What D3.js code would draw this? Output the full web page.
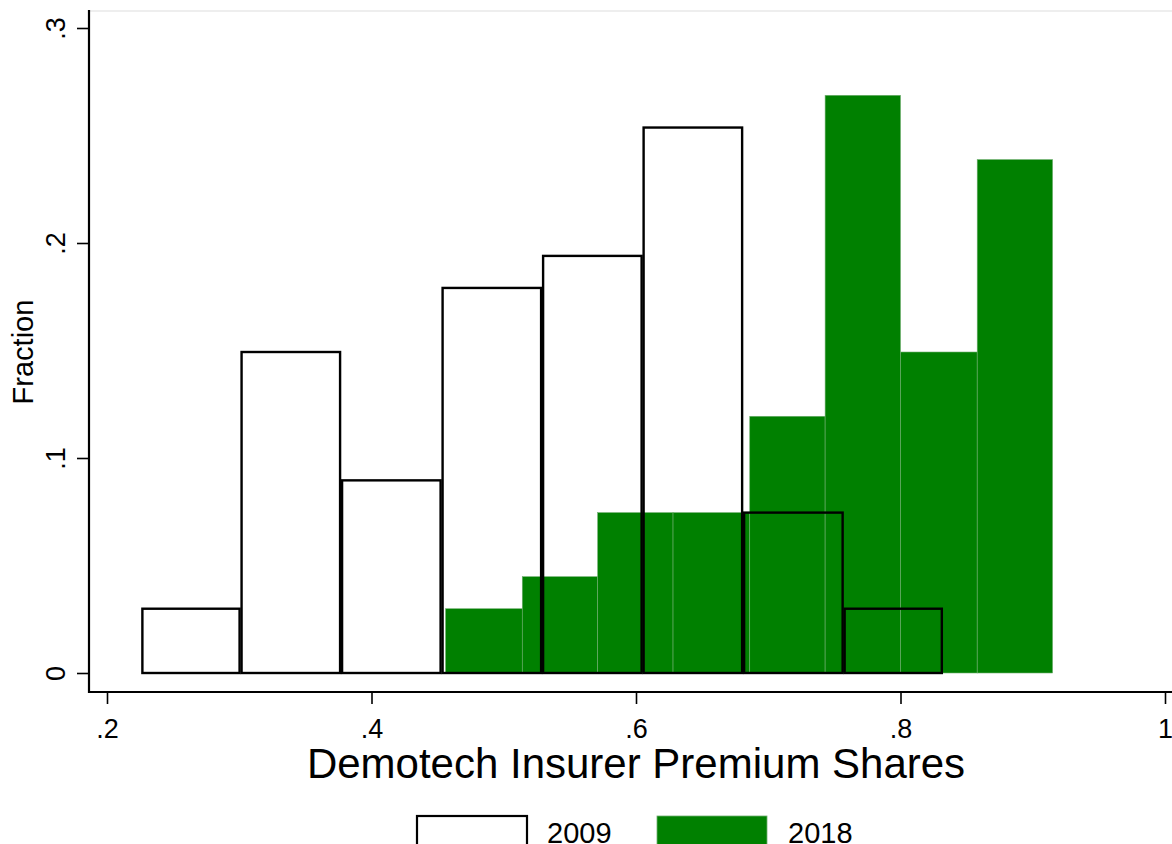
<!DOCTYPE html>
<html>
<head>
<meta charset="utf-8">
<script src="https://cdn.jsdelivr.net/npm/d3@7"></script>
<style>
    body { margin: 0; background: #fff; }
    svg { display: block; font-family: "Liberation Sans", Arial, sans-serif; }
</style>
</head>
<body>
<svg></svg>
<script>
// bin edges and fractions
const edges2009 = [0.226, 0.301, 0.377, 0.453, 0.529, 0.605, 0.681, 0.757, 0.832];
const frac2009 = [0.0299, 0.1493, 0.0896, 0.1791, 0.1940, 0.2537, 0.0746, 0.0299];
const edges2018 = [0.456, 0.514, 0.571, 0.628, 0.686, 0.743, 0.800, 0.858, 0.915];
const frac2018 = [0.0299, 0.0448, 0.0746, 0.0746, 0.1194, 0.2687, 0.1493, 0.2388];
const xTicks = [0.2, 0.4, 0.6, 0.8, 1];
const yTicks = [0, 0.1, 0.2, 0.3];
const seriesNames = ["2009", "2018"];

const green = "#008000";

const svg = d3.select("svg")
    .attr("width", 1172)
    .attr("height", 844);

const x = d3.scaleLinear().domain([0.2, 1]).range([107, 1165]);
const y = d3.scaleLinear().domain([0, 0.3]).range([673, 28]);

function bins(edges, fracs) {
    return fracs.map((f, i) => ({x0: edges[i], x1: edges[i + 1], f}));
}

// light plot region edge on top
svg.append("line")
    .attr("x1", 89).attr("x2", 1172)
    .attr("y1", 11).attr("y2", 11)
    .attr("stroke", "#e8e8e8")
    .attr("stroke-width", 1.5);

// 2018 bars, filled
svg.append("g").selectAll("rect")
    .data(bins(edges2018, frac2018))
    .join("rect")
    .attr("x", d => x(d.x0))
    .attr("width", d => x(d.x1) - x(d.x0))
    .attr("y", d => y(d.f))
    .attr("height", d => y(0) - y(d.f))
    .attr("fill", green)
    .attr("stroke", "#6fae6f")
    .attr("stroke-width", 0.6);

// 2009 bars, outline only, drawn over
svg.append("g").selectAll("rect")
    .data(bins(edges2009, frac2009))
    .join("rect")
    .attr("x", d => x(d.x0) + 1)
    .attr("width", d => x(d.x1) - x(d.x0) - 2)
    .attr("y", d => y(d.f))
    .attr("height", d => y(0) - y(d.f))
    .attr("fill", "none")
    .attr("stroke", "#000")
    .attr("stroke-width", 2.4);

// y axis
const yAxis = svg.append("g")
    .attr("transform", "translate(89,0)")
    .call(d3.axisLeft(y).tickValues(yTicks).tickSize(12).tickPadding(0)
        .tickFormat(d => d === 0 ? "0" : d3.format(".1f")(d).replace(/^0/, "")));
yAxis.select(".domain").attr("d", "M0,10V693").attr("stroke-width", 2.2);
yAxis.selectAll(".tick line").attr("stroke-width", 1.6);
yAxis.selectAll(".tick text")
    .attr("font-size", 27)
    .attr("fill", "#000")
    .attr("x", null).attr("dy", null)
    .attr("text-anchor", "middle")
    .attr("transform", "translate(-24,0) rotate(-90)");

// x axis
const xAxis = svg.append("g")
    .attr("transform", "translate(0,692)")
    .call(d3.axisBottom(x).tickValues(xTicks).tickSize(12).tickPadding(0)
        .tickFormat(d => d === 1 ? "1" : d3.format(".1f")(d).replace(/^0/, "")));
xAxis.select(".domain").attr("d", "M88,0H1172").attr("stroke-width", 2.2);
xAxis.selectAll(".tick line").attr("stroke-width", 1.6);
xAxis.selectAll(".tick text")
    .attr("font-size", 27)
    .attr("fill", "#000")
    .attr("y", 46).attr("dy", null);

// titles
svg.append("text")
    .attr("x", 636).attr("y", 778)
    .attr("text-anchor", "middle")
    .attr("font-size", 42)
    .text("Demotech Insurer Premium Shares");

svg.append("text")
    .attr("transform", "translate(33,352) rotate(-90)")
    .attr("text-anchor", "middle")
    .attr("font-size", 29)
    .text("Fraction");

// legend
const legend = svg.append("g");
const legendItems = [
    {name: seriesNames[0], bx: 417, tx: 547, fill: "#fff", stroke: "#000", sw: 2.2},
    {name: seriesNames[1], bx: 657, tx: 788, fill: green, stroke: "#6fae6f", sw: 0.8}
];
legendItems.forEach(it => {
    legend.append("rect")
        .attr("x", it.bx).attr("y", 816)
        .attr("width", 110).attr("height", 36)
        .attr("fill", it.fill)
        .attr("stroke", it.stroke)
        .attr("stroke-width", it.sw);
    legend.append("text")
        .attr("x", it.tx).attr("y", 843)
        .attr("font-size", 29)
        .text(it.name);
});
</script>
</body>
</html>
